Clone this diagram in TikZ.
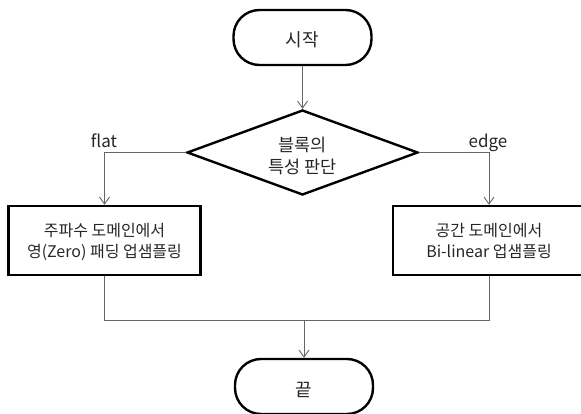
\documentclass[tikz,border=0pt]{standalone}
\usepackage{fontspec}
\setmainfont{Noto Sans CJK KR}
\usetikzlibrary{arrows.meta,shapes.geometric}
\newcommand\twolines[3]{\raisebox{#1}[0pt][0pt]{\begin{tabular}[t]{@{}c@{}}#2\\#3\end{tabular}}}
\newcommand\oneline[2]{\raisebox{#1}[0pt][0pt]{#2}}
\begin{document}
\begin{tikzpicture}[x=1pt,y=-1pt,
  every node/.style={text=black!85},
  term/.style={draw=black, line width=2.4pt, rectangle, rounded corners=26pt, minimum width=138pt, minimum height=55pt, inner sep=0pt, font=\fontsize{18}{22}\selectfont},
  proc/.style={draw=black, line width=2.4pt, rectangle, minimum width=192pt, minimum height=69pt, inner sep=0pt, font=\fontsize{16}{21}\selectfont},
  decis/.style={draw=black, line width=2.4pt, diamond, minimum width=231pt, minimum height=85pt, inner sep=0pt, font=\fontsize{17.5}{22}\selectfont},
  conn/.style={draw=black!60, line width=0.9pt},
  arr/.style={conn, -{Straight Barb[length=7pt,width=10pt,line width=0.9pt]}},
  lbl/.style={font=\fontsize{17}{20}\selectfont, anchor=base, inner sep=0pt}
]
\useasboundingbox (0,0) rectangle (581,414);
\node[term] (start) at (302.5,37.5) {\oneline{-9.3pt}{시작}};
\node[decis] (dec) at (302.5,152.5) {\twolines{0.8pt}{블록의}{특성 판단}};
\node[proc] (left) at (104.5,240.5) {\twolines{4.4pt}{주파수 도메인에서}{영(Zero) 패딩 업샘플링}};
\node[proc] (right) at (489,240.5) {\twolines{4.4pt}{공간 도메인에서}{Bi-linear 업샘플링}};
\node[term] (end) at (304,386.5) {\oneline{-10.3pt}{끝}};
\coordinate (m) at (304,320);
\node[lbl] (flat) at (104,147.5) {flat};
\node[lbl] (edge) at (488,147.5) {edge};
\draw[arr] (start.south) -- (dec.north);
\draw[arr] (dec.west) -| (left.north);
\draw[arr] (dec.east) -| (right.north);
\draw[conn] (left.south) |- (m);
\draw[conn] (right.south) |- (m);
\draw[arr] (m) -- (end.north);
\end{tikzpicture}
\end{document}
